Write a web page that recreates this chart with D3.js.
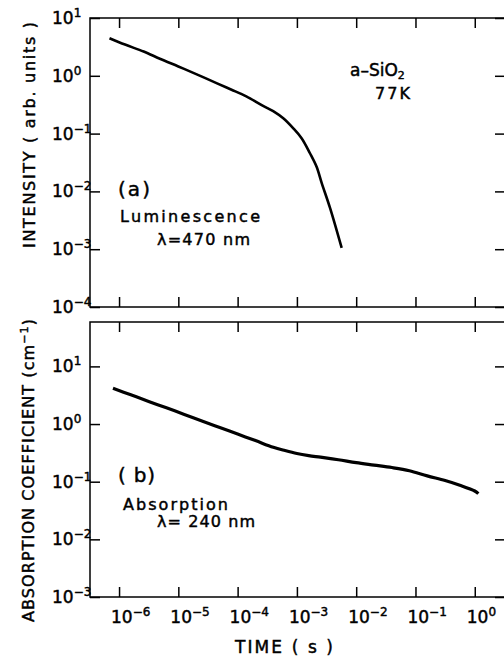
<!DOCTYPE html>
<html>
<head>
<meta charset="utf-8">
<script src="https://cdn.jsdelivr.net/npm/d3@7"></script>
<style>
  body { margin: 0; background: #fff; }
  svg text { font-family: "DejaVu Sans", sans-serif; fill: #000; stroke: #000; stroke-width: 0.45px; }
</style>
</head>
<body>
<div id="chart"></div>
<script>
// time axis decades (shared by both panels)
var timeTicks = [1e-6, 1e-5, 1e-4, 1e-3, 1e-2, 1e-1, 1e0];
var timeExp = [-6, -5, -4, -3, -2, -1, 0];

// (a) luminescence decay, lambda = 470 nm
var lumTime = [6.9e-7, 1.26e-6, 2.6e-6, 5.0e-6, 1.0e-5, 2.0e-5, 4.5e-5, 7.9e-5, 1.4e-4, 2.69e-4, 3.98e-4, 5.89e-4, 8.71e-4, 1.20e-3, 1.66e-3, 2.14e-3, 2.63e-3, 3.63e-3, 5.69e-3];
var lumValue = [4.47, 3.47, 2.63, 1.95, 1.45, 1.07, 0.74, 0.575, 0.44, 0.302, 0.245, 0.184, 0.123, 0.0832, 0.0457, 0.0269, 0.0138, 0.00513, 0.00105];
var lumTicks = [1e1, 1e0, 1e-1, 1e-2, 1e-3, 1e-4];
var lumExp = [1, 0, -1, -2, -3, -4];

// (b) absorption decay, lambda = 240 nm
var absTime = [7.9e-7, 1.58e-6, 3.16e-6, 6.3e-6, 1.26e-5, 2.5e-5, 5.0e-5, 1.0e-4, 2.0e-4, 4.0e-4, 6.3e-4, 1.0e-3, 1.58e-3, 2.5e-3, 5.0e-3, 1.0e-2, 2.0e-2, 4.0e-2, 7.9e-2, 0.158, 0.316, 0.56, 1.0, 1.15];
var absValue = [4.17, 3.21, 2.47, 1.91, 1.47, 1.13, 0.871, 0.670, 0.516, 0.395, 0.347, 0.309, 0.284, 0.266, 0.240, 0.214, 0.194, 0.176, 0.155, 0.126, 0.105, 0.087, 0.069, 0.062];
var absTicks = [1e1, 1e0, 1e-1, 1e-2, 1e-3];
var absExp = [1, 0, -1, -2, -3];

var width = 504, height = 657;
var left = 90, right = 505;
var tick = 10;

var svg = d3.select("#chart").append("svg")
    .attr("width", width)
    .attr("height", height);

var x = d3.scaleLog()
    .domain([Math.pow(10, -6.49), Math.pow(10, 0.51)])
    .range([left, right]);

var yTop = d3.scaleLog().domain([1e-4, 1e1]).range([307, 18]);
var yBot = d3.scaleLog().domain([1e-3, Math.pow(10, 1.77)]).range([597, 322]);

function expText(e) { return e < 0 ? "\u2212" + (-e) : e; }

// draw one framed panel with inward ticks on all sides
function panel(y, yTicks, yExp, times, values, lw) {
    var top = y.range()[1], bottom = y.range()[0];

    svg.append("rect")
        .attr("x", left).attr("y", top)
        .attr("width", right - left).attr("height", bottom - top)
        .attr("fill", "none").attr("stroke", "#000").attr("stroke-width", 1.5);

    var axes = [
        [d3.axisTop(x).tickValues(timeTicks), "translate(0," + bottom + ")"],
        [d3.axisBottom(x).tickValues(timeTicks), "translate(0," + top + ")"],
        [d3.axisRight(y).tickValues(yTicks), "translate(" + left + ",0)"],
        [d3.axisLeft(y).tickValues(yTicks), "translate(" + right + ",0)"]
    ];
    axes.forEach(function (a) {
        var g = svg.append("g")
            .attr("transform", a[1])
            .call(a[0].tickSize(tick).tickSizeOuter(0).tickFormat(""));
        g.select(".domain").remove();
        g.selectAll("line").attr("stroke", "#000").attr("stroke-width", 1.5);
    });

    // left tick labels 10^n
    var lab = svg.append("g").selectAll("text")
        .data(yTicks)
        .enter().append("text")
        .attr("x", 52)
        .attr("y", function (d) { return y(d) + 6; })
        .style("font-size", "17px");
    lab.append("tspan").text("10");
    lab.append("tspan")
        .attr("dy", -7)
        .style("font-size", "12px")
        .text(function (d, i) { return expText(yExp[i]); });

    var line = d3.line()
        .x(function (d) { return x(d[0]); })
        .y(function (d) { return y(d[1]); })
        .curve(d3.curveCatmullRom);

    svg.append("path")
        .datum(d3.zip(times, values))
        .attr("d", line)
        .attr("fill", "none")
        .attr("stroke", "#000")
        .attr("stroke-width", lw)
        .attr("stroke-linejoin", "round");
}

panel(yTop, lumTicks, lumExp, lumTime, lumValue, 2.6);
panel(yBot, absTicks, absExp, absTime, absValue, 3.2);

// bottom time labels
var tl = svg.append("g").selectAll("text")
    .data(timeTicks)
    .enter().append("text")
    .attr("x", function (d) { return x(d) - 8; })
    .attr("y", 623)
    .style("font-size", "17px");
tl.append("tspan").text("10");
tl.append("tspan")
    .attr("dy", -7)
    .style("font-size", "12px")
    .text(function (d, i) { return expText(timeExp[i]); });

svg.append("text")
    .attr("x", 235).attr("y", 653)
    .attr("textLength", 98).attr("lengthAdjust", "spacing")
    .style("font-size", "17px")
    .text("TIME ( s )");

// y axis titles
svg.append("text")
    .attr("transform", "translate(35,135) rotate(-90)")
    .attr("text-anchor", "middle")
    .attr("textLength", 226).attr("lengthAdjust", "spacing")
    .style("font-size", "16px")
    .text("INTENSITY  ( arb. units )");

var at = svg.append("text")
    .attr("transform", "translate(34,470) rotate(-90)")
    .attr("text-anchor", "middle")
    .style("font-size", "16px")
    .style("letter-spacing", "1.1px");
at.append("tspan").text("ABSORPTION COEFFICIENT (cm");
at.append("tspan").attr("dy", -6).style("font-size", "11px").text("\u22121");
at.append("tspan").attr("dy", 6).text(")");

// annotations, panel (a)
var sio = svg.append("text").attr("x", 350).attr("y", 76).style("font-size", "17px");
sio.append("tspan").text("a\u2013SiO");
sio.append("tspan").attr("dy", 3).style("font-size", "11px").text("2");
svg.append("text").attr("x", 375).attr("y", 99)
    .attr("textLength", 35).attr("lengthAdjust", "spacing")
    .style("font-size", "16px").text("77K");

svg.append("text").attr("x", 118).attr("y", 196)
    .attr("textLength", 32).attr("lengthAdjust", "spacing")
    .style("font-size", "20px").text("(a)");
svg.append("text").attr("x", 120).attr("y", 222)
    .attr("textLength", 140).attr("lengthAdjust", "spacing")
    .style("font-size", "16px").text("Luminescence");
svg.append("text").attr("x", 157).attr("y", 245)
    .attr("textLength", 93).attr("lengthAdjust", "spacing")
    .style("font-size", "16px").text("\u03bb=470 nm");

// annotations, panel (b)
svg.append("text").attr("x", 118).attr("y", 482)
    .attr("textLength", 37).attr("lengthAdjust", "spacing")
    .style("font-size", "20px").text("( b)");
svg.append("text").attr("x", 123).attr("y", 510)
    .attr("textLength", 105).attr("lengthAdjust", "spacing")
    .style("font-size", "16px").text("Absorption");
svg.append("text").attr("x", 157).attr("y", 527)
    .attr("textLength", 98).attr("lengthAdjust", "spacing")
    .style("font-size", "16px").text("\u03bb= 240 nm");
</script>
</body>
</html>
